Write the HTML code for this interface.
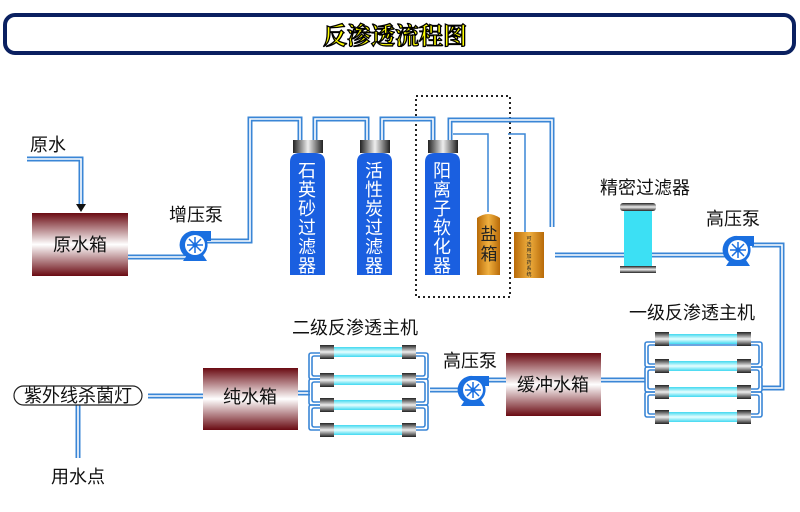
<!DOCTYPE html>
<html><head><meta charset="utf-8"><style>
html,body{margin:0;padding:0;background:#fff;}
svg{display:block;font-family:"Liberation Sans","Noto Sans CJK SC",sans-serif;}
.p1{fill:none;stroke:#3a86d6;stroke-width:5;stroke-linejoin:miter}
.p2{fill:none;stroke:#fff;stroke-width:1.6;stroke-linejoin:miter}
.lbl{font-size:18px;fill:#111;text-anchor:middle}
.col{font-size:18px;fill:#fff;text-anchor:middle}
</style></head><body>
<svg width="800" height="512" viewBox="0 0 800 512" xmlns="http://www.w3.org/2000/svg">
<defs>
<linearGradient id="tank" x1="0" y1="0" x2="0" y2="1">
<stop offset="0" stop-color="#6a0a12"/><stop offset="0.5" stop-color="#fff"/><stop offset="1" stop-color="#6a0a12"/></linearGradient>
<linearGradient id="cap" x1="0" y1="0" x2="1" y2="0">
<stop offset="0" stop-color="#222"/><stop offset="0.5" stop-color="#eee"/><stop offset="1" stop-color="#222"/></linearGradient>
<linearGradient id="capv" x1="0" y1="0" x2="0" y2="1">
<stop offset="0" stop-color="#222"/><stop offset="0.5" stop-color="#eee"/><stop offset="1" stop-color="#222"/></linearGradient>
<linearGradient id="tube" x1="0" y1="0" x2="0" y2="1">
<stop offset="0" stop-color="#40d8f0"/><stop offset="0.5" stop-color="#e8ffff"/><stop offset="1" stop-color="#40d8f0"/></linearGradient>
<linearGradient id="org" x1="0" y1="0" x2="1" y2="0">
<stop offset="0" stop-color="#b86a08"/><stop offset="0.5" stop-color="#f0b040"/><stop offset="1" stop-color="#b86a08"/></linearGradient>
<g id="pump">
<path d="M-8,10 L-12,16 L12,16 L8,10Z" fill="#1a6fe0"/>
<path d="M0,-14 L16,-14 L16,-4 L12,-4 A14,14 0 1 1 0,-14Z" fill="#1a6fe0"/>
<circle r="10" fill="#fff"/>
<g stroke="#1a6fe0" stroke-width="1.5"><line x1="-8" y1="0" x2="8" y2="0"/><line x1="0" y1="-8" x2="0" y2="8"/><line x1="-6" y1="-6" x2="6" y2="6"/><line x1="-6" y1="6" x2="6" y2="-6"/></g>
<circle r="2.5" fill="#1a6fe0"/>
</g>
<g id="ro">
<rect x="0" y="-7" width="14" height="14" fill="url(#capv)"/>
<rect x="14" y="-5" width="68" height="10" fill="url(#tube)"/>
<rect x="82" y="-7" width="14" height="14" fill="url(#capv)"/>
</g>
</defs>

<rect x="5" y="15" width="789" height="38" rx="10" fill="#fff" stroke="#0a2060" stroke-width="4"/>
<text x="395" y="44" text-anchor="middle" font-size="24" font-weight="bold" fill="#ffff00" stroke="#000" stroke-width="1.3" style="font-family:'Noto Serif CJK SC',serif">反渗透流程图</text>

<rect x="416" y="96" width="94" height="201" fill="none" stroke="#222" stroke-width="2" stroke-dasharray="2,3"/>

<g>
<path class="p1" d="M27,159 H81 V205"/><path class="p2" d="M27,159 H81 V205"/>
<path class="p1" d="M128,257 H185"/><path class="p2" d="M128,257 H185"/>
<path class="p1" d="M205,241 H250 V119 H300 V140"/><path class="p2" d="M205,241 H250 V119 H300 V140"/>
<path class="p1" d="M315,140 V119 H367 V140"/><path class="p2" d="M315,140 V119 H367 V140"/>
<path class="p1" d="M382,140 V119 H433 V140"/><path class="p2" d="M382,140 V119 H433 V140"/>
<path class="p1" d="M450,140 V120 H552 V227"/><path class="p2" d="M450,140 V120 H552 V227"/>
<path class="p1" d="M555,255 H727"/><path class="p2" d="M555,255 H727"/>
<path class="p1" d="M752,245 H782 V388 H762"/><path class="p2" d="M752,245 H782 V388 H762"/>
<path class="p1" d="M645,380 H601"/><path class="p2" d="M645,380 H601"/>
<path class="p1" d="M506,380 H485"/><path class="p2" d="M506,380 H485"/>
<path class="p1" d="M462,390 H430"/><path class="p2" d="M462,390 H430"/>
<path class="p1" d="M310,393 H298"/><path class="p2" d="M310,393 H298"/>
<path class="p1" d="M203,396 H148"/><path class="p2" d="M203,396 H148"/>
<path class="p1" d="M78,405 V458"/><path class="p2" d="M78,405 V458"/>
<path d="M453,134 H488 V212 M508,134 H525 V232" fill="none" stroke="#3a86d6" stroke-width="1.5"/>
</g>
<path d="M76,204 L86,204 L81,212Z" fill="#111"/>

<text class="lbl" x="48" y="151">原水</text>
<rect x="32" y="213" width="96" height="63" fill="url(#tank)"/>
<text class="lbl" x="80" y="251">原水箱</text>
<text class="lbl" x="196" y="221">增压泵</text>
<use href="#pump" x="195" y="245"/>

<g>
<rect x="293" y="140" width="30" height="13" fill="url(#cap)"/>
<path d="M290,275 V162 Q290,153 300,153 H315 Q325,153 325,162 V275Z" fill="#1a5fe0"/>
<text class="col" x="307" y="177"><tspan x="307" dy="0">石</tspan><tspan x="307" dy="19">英</tspan><tspan x="307" dy="19">砂</tspan><tspan x="307" dy="19">过</tspan><tspan x="307" dy="19">滤</tspan><tspan x="307" dy="19">器</tspan></text>
<rect x="360" y="140" width="30" height="13" fill="url(#cap)"/>
<path d="M357,275 V162 Q357,153 367,153 H382 Q392,153 392,162 V275Z" fill="#1a5fe0"/>
<text class="col" x="374" y="177"><tspan x="374" dy="0">活</tspan><tspan x="374" dy="19">性</tspan><tspan x="374" dy="19">炭</tspan><tspan x="374" dy="19">过</tspan><tspan x="374" dy="19">滤</tspan><tspan x="374" dy="19">器</tspan></text>
<rect x="428" y="140" width="30" height="13" fill="url(#cap)"/>
<path d="M425,275 V162 Q425,153 435,153 H450 Q460,153 460,162 V275Z" fill="#1a5fe0"/>
<text class="col" x="442" y="177"><tspan x="442" dy="0">阳</tspan><tspan x="442" dy="19">离</tspan><tspan x="442" dy="19">子</tspan><tspan x="442" dy="19">软</tspan><tspan x="442" dy="19">化</tspan><tspan x="442" dy="19">器</tspan></text>
</g>
<path d="M477,275 V218 Q488,210 500,218 V275Z" fill="url(#org)"/>
<text x="489" y="240" font-size="17" text-anchor="middle" fill="#222"><tspan x="489">盐</tspan><tspan x="489" dy="20">箱</tspan></text>
<rect x="514" y="232" width="30" height="46" fill="url(#org)"/>
<text x="529" y="240" font-size="5" text-anchor="middle" fill="#222"><tspan x="529">可</tspan><tspan x="529" dy="6">选</tspan><tspan x="529" dy="6">用</tspan><tspan x="529" dy="6">加</tspan><tspan x="529" dy="6">药</tspan><tspan x="529" dy="6">系</tspan><tspan x="529" dy="6">统</tspan></text>

<text class="lbl" x="645" y="194">精密过滤器</text>
<rect x="620" y="203" width="36" height="8" rx="3" fill="url(#capv)"/>
<rect x="624" y="211" width="28" height="55" fill="#3ce0f4"/>
<rect x="620" y="266" width="36" height="7" fill="url(#capv)"/>
<text class="lbl" x="733" y="225">高压泵</text>
<use href="#pump" x="738" y="250"/>

<text class="lbl" x="692" y="319">一级反渗透主机</text>
<g fill="none" stroke="#3a86d6" stroke-width="1.6">
<rect x="645" y="342" width="117" height="25" rx="2"/><rect x="648" y="345" width="111" height="19" rx="2"/>
<rect x="645" y="367" width="117" height="25" rx="2"/><rect x="648" y="370" width="111" height="19" rx="2"/>
<rect x="645" y="392" width="117" height="25" rx="2"/><rect x="648" y="395" width="111" height="19" rx="2"/>
</g>
<use href="#ro" x="655" y="339"/><use href="#ro" x="655" y="366"/><use href="#ro" x="655" y="392"/><use href="#ro" x="655" y="417"/>

<rect x="506" y="353" width="95" height="63" fill="url(#tank)"/>
<text class="lbl" x="553" y="391">缓冲水箱</text>
<text class="lbl" x="470" y="367">高压泵</text>
<use href="#pump" x="473" y="390"/>

<text class="lbl" x="355" y="334">二级反渗透主机</text>
<g fill="none" stroke="#3a86d6" stroke-width="1.6">
<rect x="309" y="353" width="119" height="26" rx="2"/><rect x="312" y="356" width="113" height="20" rx="2"/>
<rect x="309" y="379" width="119" height="26" rx="2"/><rect x="312" y="382" width="113" height="20" rx="2"/>
<rect x="309" y="405" width="119" height="25" rx="2"/><rect x="312" y="408" width="113" height="19" rx="2"/>
</g>
<use href="#ro" x="320" y="352"/><use href="#ro" x="320" y="380"/><use href="#ro" x="320" y="405"/><use href="#ro" x="320" y="430"/>

<rect x="203" y="368" width="95" height="62" fill="url(#tank)"/>
<text class="lbl" x="250" y="403">纯水箱</text>
<rect x="14" y="386" width="128" height="19" rx="9.5" fill="#fff" stroke="#222" stroke-width="1.2"/>
<text class="lbl" x="78" y="402">紫外线杀菌灯</text>
<text class="lbl" x="78" y="483">用水点</text>
</svg>
</body></html>
